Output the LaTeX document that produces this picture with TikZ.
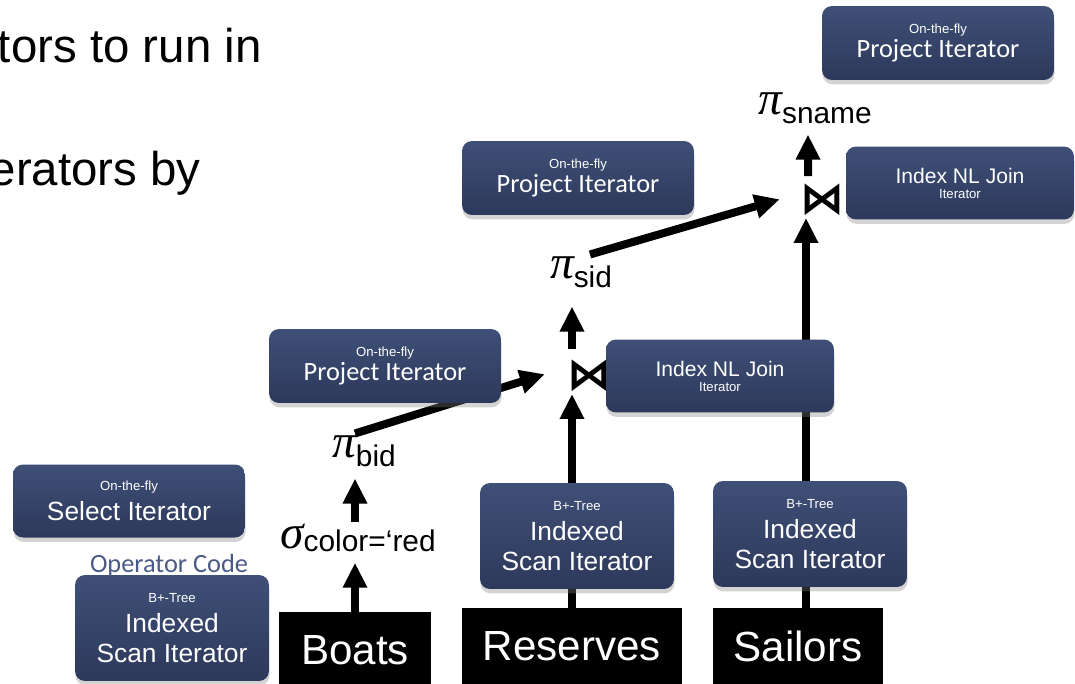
\documentclass[tikz,border=0pt]{standalone}
\usepackage{fontspec}
\setmainfont{Liberation Sans}
\newfontfamily\califont{Carlito}
\newfontfamily\symfont{DejaVu Sans}
\newfontfamily\greekfont{Liberation Serif}
\usetikzlibrary{positioning,arrows.meta,shadows,calc}
\definecolor{IterTop}{RGB}{63,79,118}
\definecolor{IterBottom}{RGB}{45,57,92}
\definecolor{CodeBlue}{RGB}{74,90,134}
\newcommand{\opsub}[2][5pt]{\raisebox{-#1}{\fontsize{17}{17}\selectfont #2}}
\newcommand{\opsym}[1]{{\greekfont\itshape #1}}
\newcommand{\tagline}[1]{{\rmfamily\fontsize{7.5}{9}\selectfont #1}}
\tikzset{
  flow/.style={-{Triangle[length=0.5cm,width=0.46cm]},line width=0.16cm},
  iterbox/.style={rounded corners=0.2cm,top color=IterTop,bottom color=IterBottom,
    text=white,align=center,inner sep=0pt,
    drop shadow={shadow xshift=0.3pt,shadow yshift=-2.5pt,opacity=0.35}},
  projbox/.style={iterbox,minimum width=4.64cm,minimum height=1.48cm,
    font=\califont\fontsize{15}{14}\selectfont},
  joinbox/.style={iterbox,minimum width=4.56cm,minimum height=1.46cm,
    font=\fontsize{12}{8.5}\selectfont},
  selbox/.style={iterbox,minimum width=4.64cm,minimum height=1.46cm,
    font=\fontsize{15}{17}\selectfont},
  scanbox/.style={iterbox,minimum width=3.88cm,minimum height=2.12cm,
    font=\fontsize{15}{17}\selectfont},
  relbox/.style={fill=black,text=white,inner sep=0pt,minimum height=1.52cm,
    anchor=north,font=\fontsize{24}{24}\selectfont},
  oplabel/.style={inner sep=1pt,font=\fontsize{27}{27}\selectfont},
  joinsym/.style={inner sep=1pt,font=\symfont\bfseries\fontsize{25}{25}\selectfont},
  slide/.style={anchor=base east,inner sep=0pt,font=\fontsize{27}{27}\selectfont},
  opcode/.style={inner sep=0pt,text=CodeBlue,font=\califont\fontsize{15}{15}\selectfont}
}

\begin{document}
\begin{tikzpicture}[x=0.02cm,y=-0.02cm]
  \useasboundingbox (0,0) rectangle (1075,683);
  \clip (0,0) rectangle (1075,683);
  \node[slide] (line1) at (262,62) {tors to run in};
  \node[slide] (line2) at (201,185) {erators by};

  \node[relbox,minimum width=3.06cm] (boats) at (355,612) {Boats};
  \node[relbox,minimum width=4.4cm] (reserves) at (572,608) {Reserves};
  \node[relbox,minimum width=3.4cm] (sailors) at (798,608) {Sailors};

  \node[oplabel] (selop) at (358,538) {\opsym{σ}\opsub[2pt]{color=‘red}};
  \node[oplabel] (bidop) at (364,451) {\opsym{π}\opsub{bid}};
  \node[joinsym] (join1) at (589,376) {⋈};
  \node[oplabel] (sidop) at (581,272) {\opsym{π}\opsub{sid}};
  \node[joinsym] (join2) at (822,200) {⋈};
  \node[oplabel] (snameop) at (815,108) {\opsym{π}\opsub{sname}};

  \draw[flow,shorten >=0.17cm] (boats.north) -- (boats.north |- selop.south);
  \draw[flow,shorten >=0.2cm] (boats.north |- selop.north) -- (boats.north |- bidop.south);
  \draw[flow,shorten >=0.42cm] ([xshift=-0.18cm]bidop.north) -- ([yshift=0.16cm]join1.west);
  \draw[flow] (reserves.north) -- (reserves.north |- join1.south);
  \draw[flow,shorten <=0.18cm,shorten >=0.34cm] (reserves.north |- join1.north) -- (reserves.north |- sidop.south);
  \draw[flow,shorten >=0.38cm] ([xshift=0.18cm]sidop.north) -- ([yshift=0.12cm]join2.west);
  \draw[flow] ([xshift=0.16cm]sailors.north) -- ([xshift=0.16cm]sailors.north |- join2.south);
  \draw[flow,shorten <=0.12cm,shorten >=0.18cm] ([xshift=-0.28cm]join2.north) -- ([xshift=-0.14cm]snameop.south);

  \node[projbox] (proj3) at (938,43) {\tagline{On-the-fly}\\Project Iterator};
  \node[joinbox] (nlj2) at (960,183) {Index NL Join\\\tagline{Iterator}};
  \node[projbox] (proj2) at (578,178) {\tagline{On-the-fly}\\Project Iterator};
  \node[projbox] (proj1) at (385,366) {\tagline{On-the-fly}\\Project Iterator};
  \node[joinbox] (nlj1) at (720,376) {Index NL Join\\\tagline{Iterator}};
  \node[selbox] (selit) at (129,501) {\tagline{On-the-fly}\\Select Iterator};
  \node[scanbox] (scan0) at (172,628) {\tagline{B+-Tree}\\Indexed\\Scan Iterator};
  \node[scanbox] (scan1) at (577,536) {\tagline{B+-Tree}\\Indexed\\Scan Iterator};
  \node[scanbox] (scan2) at (810,534) {\tagline{B+-Tree}\\Indexed\\Scan Iterator};
  \node[opcode] (code) at (169,565) {Operator Code};
\end{tikzpicture}
\end{document}
